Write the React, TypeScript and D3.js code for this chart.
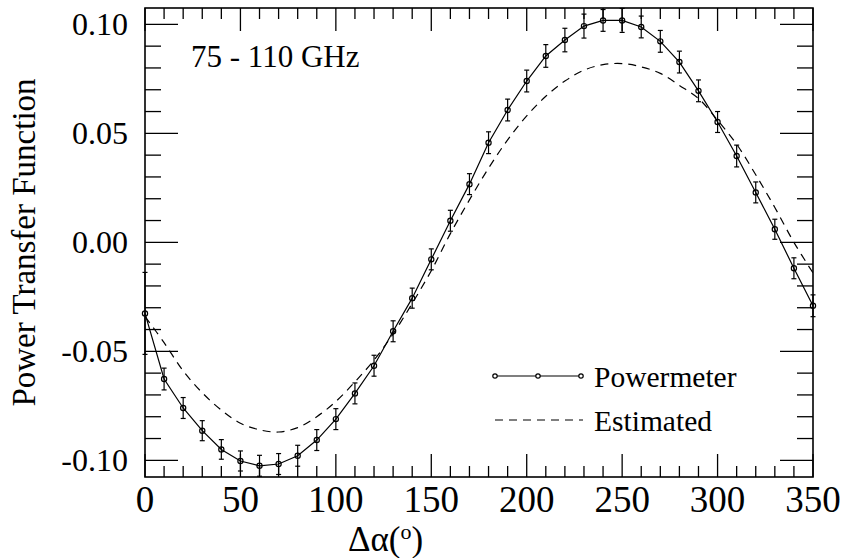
import React from "react";
import * as d3 from "d3";

// Δα in degrees
const angles = [
  0, 10, 20, 30, 40, 50, 60, 70, 80, 90, 100, 110, 120, 130, 140, 150, 160, 170,
  180, 190, 200, 210, 220, 230, 240, 250, 260, 270, 280, 290, 300, 310, 320,
  330, 340, 350,
];
const powermeter = [
  -0.0326, -0.0627, -0.076, -0.0864, -0.095, -0.1003, -0.1025, -0.1017,
  -0.0979, -0.0907, -0.0811, -0.0693, -0.0566, -0.0408, -0.0256, -0.0078,
  0.0099, 0.0267, 0.0457, 0.0607, 0.074, 0.0855, 0.0928, 0.0992, 0.1018,
  0.1018, 0.0988, 0.0922, 0.0827, 0.0695, 0.0552, 0.0396, 0.0229, 0.006,
  -0.0119, -0.0291,
];
const powermeterErr = [
  0.0188, 0.005, 0.0048, 0.0046, 0.0045, 0.0046, 0.0048, 0.0048, 0.0048,
  0.0048, 0.0048, 0.0048, 0.0048, 0.0048, 0.0046, 0.0048, 0.0048, 0.0048,
  0.005, 0.005, 0.005, 0.0052, 0.0054, 0.0055, 0.005, 0.0055, 0.005, 0.005,
  0.005, 0.005, 0.0048, 0.005, 0.0048, 0.0046, 0.0048, 0.005,
];
const estimated = [
  -0.034, -0.046, -0.059, -0.069, -0.077, -0.083, -0.086, -0.087, -0.085,
  -0.08, -0.073, -0.064, -0.054, -0.042, -0.028, -0.013, 0.004, 0.0195,
  0.034, 0.047, 0.058, 0.067, 0.074, 0.079, 0.0815, 0.082, 0.0805, 0.0775,
  0.072, 0.066, 0.056, 0.045, 0.031, 0.016, 0.0, -0.014,
];
const xTickLabels = [0, 50, 100, 150, 200, 250, 300, 350];
const yTickLabels = ["-0.10", "-0.05", "0.00", "0.05", "0.10"];
const legendLabels = ["Powermeter", "Estimated"];

const font = "'Liberation Serif', 'Times New Roman', serif";

export default function App() {
  const width = 843;
  const height = 558;
  const left = 145;
  const right = 813;
  const top = 8;
  const bottom = 477;

  const x = d3.scaleLinear().domain([0, 350]).range([left, right]);
  const y = d3.scaleLinear().domain([-0.10765, 0.1075]).range([bottom, top]);

  const pts = angles.map((a, i) => ({
    a,
    v: powermeter[i],
    e: powermeterErr[i],
    est: estimated[i],
  }));

  const solid = d3
    .line<(typeof pts)[0]>()
    .x((d) => x(d.a))
    .y((d) => y(d.v));
  const dashed = d3
    .line<(typeof pts)[0]>()
    .x((d) => x(d.a))
    .y((d) => y(d.est))
    .curve(d3.curveCatmullRom);

  const xMinor = d3.range(0, 351, 10);
  const yMinor = d3.range(-10, 11).map((k) => k / 100);

  const legendX = [495, 538, 581];

  return (
    <svg
      width={width}
      height={height}
      style={{ position: "absolute", left: 0, top: 0, background: "#fff" }}
    >
      <defs>
        <clipPath id="plot">
          <rect x={left} y={top} width={right - left} height={bottom - top} />
        </clipPath>
      </defs>

      {/* ticks */}
      <g stroke="black" strokeWidth={1.3}>
        {xMinor.map((t) => {
          const len = t % 50 === 0 ? 23 : 11;
          return (
            <g key={"x" + t}>
              <line x1={x(t)} x2={x(t)} y1={bottom} y2={bottom - len} />
              <line x1={x(t)} x2={x(t)} y1={top} y2={top + len} />
            </g>
          );
        })}
        {yMinor.map((t, i) => {
          const len = i % 5 === 0 ? 33 : 16;
          return (
            <g key={"y" + i}>
              <line x1={left} x2={left + len} y1={y(t)} y2={y(t)} />
              <line x1={right} x2={right - len} y1={y(t)} y2={y(t)} />
            </g>
          );
        })}
      </g>

      {/* estimated */}
      <path
        d={dashed(pts) ?? ""}
        fill="none"
        stroke="black"
        strokeWidth={1.2}
        strokeDasharray="8,6"
        clipPath="url(#plot)"
      />

      {/* powermeter */}
      <path d={solid(pts) ?? ""} fill="none" stroke="black" strokeWidth={1.2} />
      <g stroke="black" strokeWidth={1.2} fill="none">
        {pts.map((d) => (
          <g key={d.a}>
            <line x1={x(d.a)} x2={x(d.a)} y1={y(d.v - d.e)} y2={y(d.v + d.e)} />
            <line
              x1={x(d.a) - 2.5}
              x2={x(d.a) + 2.5}
              y1={y(d.v - d.e)}
              y2={y(d.v - d.e)}
            />
            <line
              x1={x(d.a) - 2.5}
              x2={x(d.a) + 2.5}
              y1={y(d.v + d.e)}
              y2={y(d.v + d.e)}
            />
            <circle cx={x(d.a)} cy={y(d.v)} r={2.6} />
          </g>
        ))}
      </g>

      {/* frame */}
      <rect
        x={left}
        y={top}
        width={right - left}
        height={bottom - top}
        fill="none"
        stroke="black"
        strokeWidth={1.6}
      />

      {/* tick labels */}
      <g fontFamily={font} fontSize={37} textAnchor="middle">
        {xTickLabels.map((t) => (
          <text key={t} x={x(t)} y={512}>
            {t}
          </text>
        ))}
      </g>
      <g fontFamily={font} fontSize={32} textAnchor="end">
        {yTickLabels.map((t) => (
          <text key={t} x={128} y={y(+t) + 11}>
            {t}
          </text>
        ))}
      </g>

      {/* axis titles */}
      <text
        fontFamily={font}
        fontSize={33}
        textAnchor="middle"
        transform={`translate(35,${(top + bottom) / 2}) rotate(-90)`}
      >
        Power Transfer Function
      </text>
      <text fontFamily={font} fontSize={35} x={348} y={551}>
        Δα(
        <tspan fontSize={22} dy={-12}>
          o
        </tspan>
        <tspan dy={12}>)</tspan>
      </text>

      <text fontFamily={font} fontSize={31} x={191} y={67}>
        75 - 110 GHz
      </text>

      {/* legend */}
      <g stroke="black" strokeWidth={1.2} fill="none">
        <line x1={legendX[0]} x2={legendX[2]} y1={376} y2={376} />
        {legendX.map((lx) => (
          <circle key={lx} cx={lx} cy={376} r={2.2} fill="white" />
        ))}
        <line
          x1={495}
          x2={583}
          y1={420}
          y2={420}
          strokeDasharray="8,6"
        />
      </g>
      <g fontFamily={font} fontSize={29.5}>
        <text x={594} y={387}>
          {legendLabels[0]}
        </text>
        <text x={594} y={431}>
          {legendLabels[1]}
        </text>
      </g>
    </svg>
  );
}
